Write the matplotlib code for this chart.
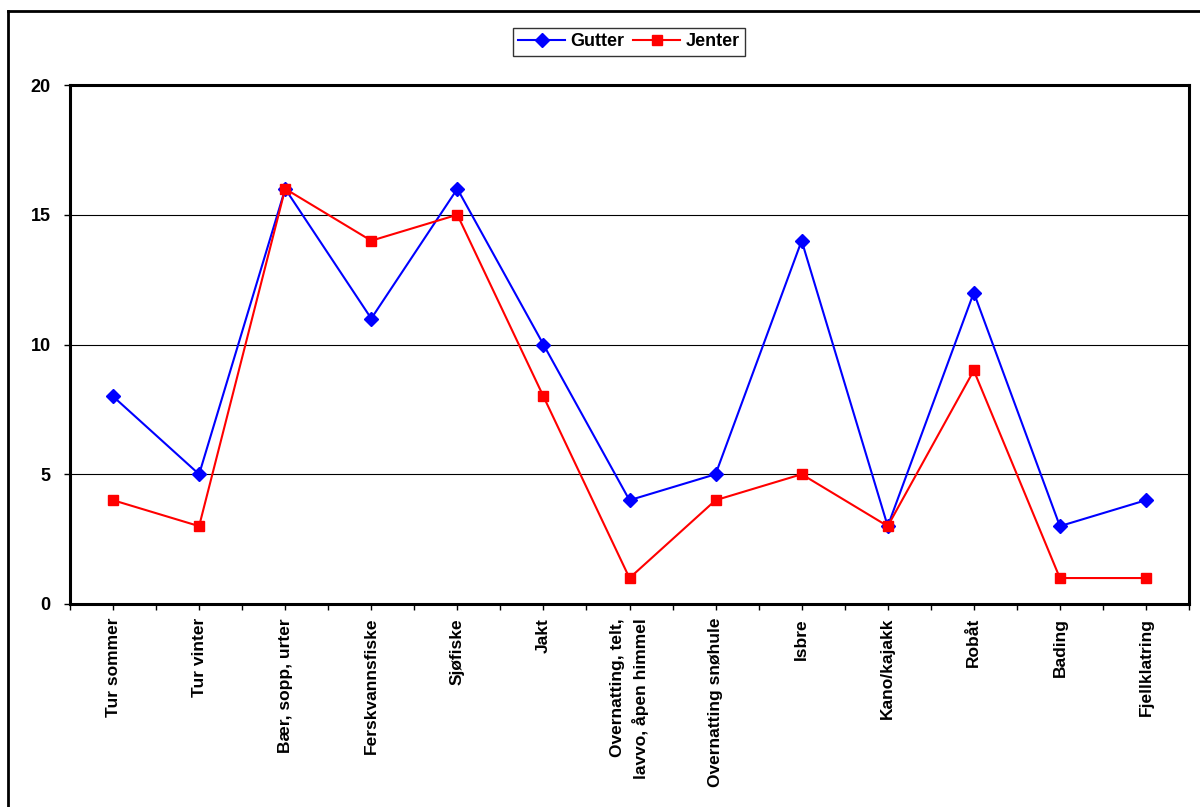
import numpy as np
import matplotlib.pyplot as plt
from matplotlib.lines import Line2D

plt.rcParams['font.family'] = ['Liberation Sans', 'DejaVu Sans']
plt.rcParams['font.weight'] = 'bold'

# data
categories = ['Tur sommer', 'Tur vinter', 'Bær, sopp, urter', 'Ferskvannsfiske',
              'Sjøfiske', 'Jakt', 'Overnatting, telt,\nlavvo, åpen himmel',
              'Overnatting snøhule', 'Isbre', 'Kano/kajakk', 'Robåt', 'Bading',
              'Fjellklatring']
gutter = [8, 5, 16, 11, 16, 10, 4, 5, 14, 3, 12, 3, 4]
jenter = [4, 3, 16, 14, 15, 8, 1, 4, 5, 3, 9, 1, 1]
y_ticks = [0, 5, 10, 15, 20]

W, H = 1200, 807
fs = 12.5
fig = plt.figure(figsize=(12, 8.07), dpi=100)
ax = fig.add_axes([70 / W, 1 - 604 / H, (1189 - 70) / W, (604 - 85) / H])

x = np.arange(len(categories))
ax.plot(x, gutter, color='#0000ff', lw=1.5, marker='D', ms=7, label='Gutter', zorder=3)
ax.plot(x, jenter, color='#ff0000', lw=1.5, marker='s', ms=7, label='Jenter', zorder=3)

ax.set_xlim(-0.5, len(categories) - 0.5)
ax.set_ylim(0, 20)
ax.set_yticks(y_ticks)
ax.set_yticklabels([str(v) for v in y_ticks], fontsize=fs + 0.5, fontweight='bold')
for v in y_ticks[1:-1]:
    ax.axhline(v, color='black', lw=0.8, zorder=1)

# labels at category centres, tick marks also between categories
ax.set_xticks(x)
ax.set_xticklabels(categories, rotation=90, fontsize=fs, fontweight='bold',
                   va='top', ha='center', multialignment='right',
                   linespacing=1.45)
ax.set_xticks(np.arange(-0.5, len(categories), 1.0), minor=True)
ax.tick_params(axis='x', which='major', length=4, width=1, direction='out', pad=6)
ax.tick_params(axis='x', which='minor', length=4, width=1, direction='out')
ax.tick_params(axis='y', length=4, width=1, direction='out', pad=10)

for s in ax.spines.values():
    s.set_linewidth(2.2)

leg = ax.legend(loc='center', bbox_to_anchor=(629 / W, 1 - 42 / H),
                bbox_transform=fig.transFigure, ncol=2, frameon=True,
                fancybox=False, edgecolor='black',
                prop={'weight': 'bold', 'size': 13}, handlelength=2.6,
                columnspacing=0.5, handletextpad=0.3, borderpad=0.3,
                borderaxespad=0)
leg.get_frame().set_linewidth(1.0)

# outer frame of the chart area
fig.add_artist(Line2D([8 / W, 1.0], [1 - 11 / H, 1 - 11 / H], color='black',
                      lw=2, transform=fig.transFigure))
fig.add_artist(Line2D([8 / W, 8 / W], [0, 1 - 11 / H], color='black',
                      lw=2, transform=fig.transFigure))

fig.savefig('out.png', dpi=100)
